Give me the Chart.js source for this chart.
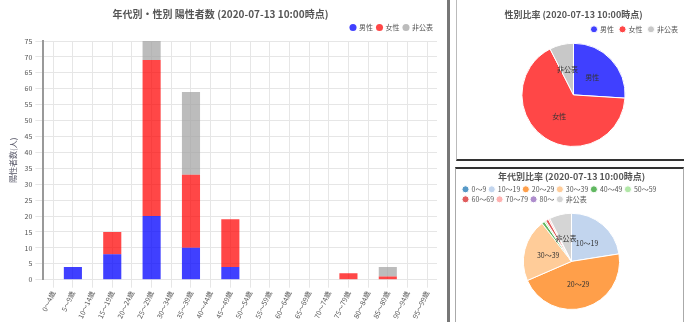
<!DOCTYPE html>
<html>
<head>
<meta charset="utf-8">
<script src="https://cdn.jsdelivr.net/npm/chart.js@4.4.0/dist/chart.umd.min.js"></script>
<style>
  body { margin: 0; background: #fff; width: 684px; height: 322px; overflow: hidden; position: relative; font-family: "Noto Sans CJK JP", sans-serif; }
  .box { position: absolute; }
  #barBox { left: 0; top: 0; width: 445px; height: 322px; }
  #sep { left: 447px; top: 0; width: 3px; height: 322px; background: #777; }
  #genderBox { left: 456px; top: 0; width: 228px; height: 159px; border-left: 1px solid #bbb; border-bottom: 2px solid #333; }
  #ageBox { left: 455px; top: 167px; width: 227px; height: 155px; border: 1px solid #aaa; border-top: 2px solid #333; border-bottom: none; }
</style>
</head>
<body>
<div class="box" id="barBox"><canvas id="barChart" width="445" height="322"></canvas></div>
<div class="box" id="sep"></div>
<div class="box" id="genderBox"><canvas id="genderChart" width="227" height="159"></canvas></div>
<div class="box" id="ageBox"><canvas id="ageChart" width="227" height="153"></canvas></div>
<script>
const ageBands = ['0～4歳', '5～9歳', '10～14歳', '15～19歳', '20～24歳', '25～29歳', '30～34歳', '35～39歳', '40～44歳', '45～49歳',
                  '50～54歳', '55～59歳', '60～64歳', '65～69歳', '70～74歳', '75～79歳', '80～84歳', '85～89歳', '90～94歳', '95～99歳'];
const maleCounts    = [0, 4, 0, 8, 0, 20, 0, 10, 0, 4, 0, 0, 0, 0, 0, 0, 0, 0, 0, 0];
const femaleCounts  = [0, 0, 0, 7, 0, 49, 0, 23, 0, 15, 0, 0, 0, 0, 0, 2, 0, 1, 0, 0];
const unknownCounts = [0, 0, 0, 0, 0, 6, 0, 26, 0, 0, 0, 0, 0, 0, 0, 0, 0, 3, 0, 0];

const genderLabels = ['男性', '女性', '非公表'];
const genderShares = [52, 133, 15];

const ageGroupLabels = ['0～9', '10～19', '20～29', '30～39', '40～49', '50～59', '60～69', '70～79', '80～', '非公表'];
const ageGroupShares = [0, 45, 92, 42, 2, 1, 2, 1, 0, 15];

const FONT = '"Noto Sans CJK JP", "Noto Sans", sans-serif';
const BLUE = 'rgba(0, 0, 255, 0.75)';
const RED = 'rgba(255, 0, 0, 0.72)';
const GRAY = 'rgba(160, 160, 160, 0.7)';
const ageColors = ['#1f77b4', '#aec7e8', '#ff7f0e', '#ffbb78', '#2ca02c', '#98df8a', '#d62728', '#ff9896', '#9467bd', '#c7c7c7']
    .map(c => c + 'c0');

Chart.defaults.font.family = FONT;
Chart.defaults.animation = false;
Chart.defaults.responsive = false;

// draws slice names at the middle of each larger slice
const sliceNames = {
    id: 'sliceNames',
    afterDatasetsDraw(chart) {
        const ctx = chart.ctx;
        const ds = chart.data.datasets[0];
        const total = ds.data.reduce((a, b) => a + b, 0);
        chart.getDatasetMeta(0).data.forEach((arc, i) => {
            if (ds.data[i] / total < 0.05) return;
            const p = arc.tooltipPosition();
            ctx.save();
            ctx.fillStyle = '#333';
            ctx.font = '7px ' + FONT;
            ctx.textAlign = 'center';
            ctx.textBaseline = 'middle';
            ctx.fillText(chart.data.labels[i], p.x, p.y);
            ctx.restore();
        });
    }
};

const smallLegend = (align, pad) => ({
    position: 'top',
    align: align,
    labels: { usePointStyle: true, pointStyle: 'circle', boxWidth: 5, boxHeight: 5, padding: pad, font: { size: 7 }, color: '#555' }
});

new Chart(document.getElementById('barChart'), {
    type: 'bar',
    data: {
        labels: ageBands,
        datasets: [
            { label: '男性', data: maleCounts, backgroundColor: BLUE },
            { label: '女性', data: femaleCounts, backgroundColor: RED },
            { label: '非公表', data: unknownCounts, backgroundColor: GRAY }
        ]
    },
    options: {
        layout: { padding: { left: 4, right: 8, top: 0 } },
        barPercentage: 0.92,
        categoryPercentage: 1,
        plugins: {
            title: { display: true, text: '年代別・性別 陽性者数 (2020-07-13 10:00時点)', color: '#555', font: { size: 10, weight: 'bold' }, padding: { top: 8, bottom: 0 } },
            legend: smallLegend('end', 4),
            tooltip: { enabled: false }
        },
        scales: {
            x: {
                stacked: true,
                grid: { offset: false, color: '#e6e6e6' },
                border: { display: false },
                ticks: { autoSkip: false, minRotation: 65, maxRotation: 65, font: { size: 7 }, color: '#555', padding: 2 }
            },
            y: {
                stacked: true,
                min: 0,
                max: 75,
                grid: { color: '#e6e6e6' },
                border: { color: '#999', width: 2 },
                ticks: { stepSize: 5, font: { size: 7 }, color: '#555', padding: 3 },
                title: { display: true, text: '陽性者数(人)', font: { size: 8 }, color: '#556' }
            }
        }
    }
});

new Chart(document.getElementById('genderChart'), {
    type: 'pie',
    data: {
        labels: genderLabels,
        datasets: [{ data: genderShares, backgroundColor: [BLUE, RED, 'rgba(170,170,170,0.65)'], borderColor: '#fff', borderWidth: 1 }]
    },
    options: {
        layout: { padding: { top: 1, bottom: 12, left: 6 } },
        plugins: {
            title: { display: true, text: '性別比率 (2020-07-13 10:00時点)', color: '#555', font: { size: 9, weight: 'bold' }, padding: { top: 8, bottom: 0 } },
            legend: smallLegend('end', 6),
            tooltip: { enabled: false }
        }
    },
    plugins: [sliceNames]
});

new Chart(document.getElementById('ageChart'), {
    type: 'pie',
    data: {
        labels: ageGroupLabels,
        datasets: [{ data: ageGroupShares, backgroundColor: ageColors, borderColor: '#fff', borderWidth: 1 }]
    },
    options: {
        layout: { padding: { bottom: 12, left: 4 } },
        plugins: {
            title: { display: true, text: '年代別比率 (2020-07-13 10:00時点)', color: '#555', font: { size: 9, weight: 'bold' }, padding: { top: 2, bottom: 1 } },
            legend: smallLegend('start', 3),
            tooltip: { enabled: false }
        }
    },
    plugins: [sliceNames]
});
</script>
</body>
</html>
